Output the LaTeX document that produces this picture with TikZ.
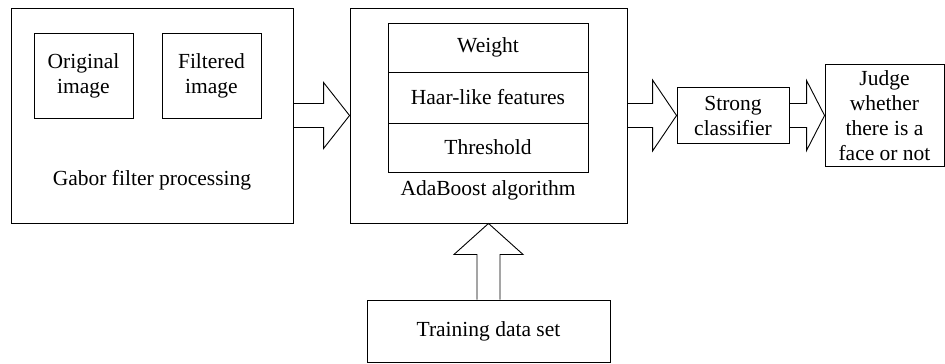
\documentclass[tikz,border=0pt]{standalone}
\usepackage{fontspec}
\setmainfont{Liberation Serif}
\usetikzlibrary{calc}

\tikzset{
  box/.style={draw, line width=0.9pt, align=center, inner sep=0pt},
  lbl/.style={align=center, inner sep=0pt},
}
% block arrow: start anchor, tip anchor, head length, head half height
\newcommand{\blockarrow}[4]{%
  \draw[line width=0.9pt] ($(#1|-#2)+(0,-12)$) -- ($(#2)+(-#3,-12)$) -- ($(#2)+(-#3,-#4)$)
    -- (#2) -- ($(#2)+(-#3,#4)$) -- ($(#2)+(-#3,12)$) -- ($(#1|-#2)+(0,12)$);}

\begin{document}
\begin{tikzpicture}[x=1pt,y=-1pt,font=\fontsize{21.5}{25}\selectfont]
	\useasboundingbox (0,0) rectangle (945,364);

	% Gabor part
	\node[box, minimum width=282, minimum height=215] (gabor) at (152,115.5) {};
	\node[box, minimum width=99, minimum height=85] (orig) at (83.5,75.5) {Original\\image};
	\node[box, minimum width=99, minimum height=85] (filt) at (211.5,75.5) {Filtered\\image};
	\node[lbl] (gabortxt) at (152,180) {Gabor filter processing};

	% AdaBoost part
	\node[box, minimum width=277, minimum height=215] (ada) at (488.5,115.5) {};
	\node[box, minimum width=200, minimum height=49] (weight) at (488,47.5) {Weight};
	\node[box, minimum width=200, minimum height=51] (haar) at (488,97.5) {Haar-like features};
	\node[box, minimum width=200, minimum height=49] (thresh) at (488,147.5) {Threshold};
	\node[lbl] (adatxt) at (488,190) {AdaBoost algorithm};

	\node[box, minimum width=112, minimum height=56] (strong) at (733,115.5) {Strong\\classifier};
	\node[box, minimum width=119, minimum height=102] (judge) at (884.5,115.5)
		{Judge\\whether\\there is a\\face or not};
	\node[box, minimum width=243, minimum height=62] (train) at (488.5,331) {Training data set};

	% arrows
	\blockarrow{gabor.east}{ada.west}{26}{33}
	\blockarrow{ada.east}{strong.west}{24}{35.5}
	\blockarrow{strong.east}{judge.west}{18}{35}
	\draw[line width=0.9pt] ($(train.north)+(-11.5,0)$) -- ($(ada.south)+(-11.5,31)$)
		-- ($(ada.south)+(-34.5,31)$) -- (ada.south) -- ($(ada.south)+(34.5,31)$)
		-- ($(ada.south)+(11.5,31)$) -- ($(train.north)+(11.5,0)$);
\end{tikzpicture}
\end{document}
